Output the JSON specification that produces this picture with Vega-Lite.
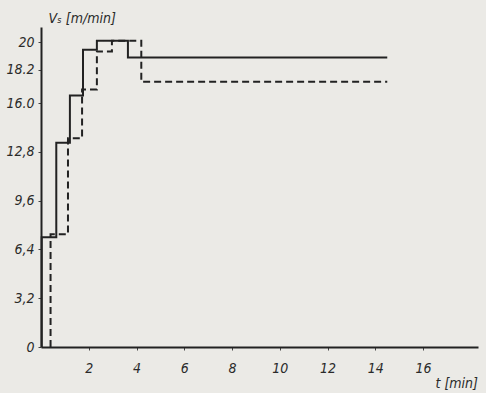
{
  "$schema": "https://vega.github.io/schema/vega-lite/v6.json",
  "width": 437,
  "height": 320,
  "autosize": {"type": "none"},
  "padding": {"left": 41, "top": 27, "right": 8, "bottom": 46},
  "background": "#ebeae6",
  "config": {
    "view": {"stroke": null},
    "axis": {
      "labelFont": "DejaVu Sans Condensed",
      "labelFontStyle": "italic",
      "labelFontSize": 14,
      "labelColor": "#2a2a2a",
      "titleFont": "DejaVu Sans Condensed",
      "titleFontStyle": "italic",
      "titleFontWeight": "normal",
      "titleFontSize": 14,
      "titleColor": "#2a2a2a",
      "domainColor": "#222",
      "domainWidth": 2,
      "tickColor": "#444",
      "grid": false
    }
  },
  "data": {
    "values": [
      {"series": "a", "o": 1, "t": 0.03, "v": 0},
      {"series": "a", "o": 2, "t": 0.03, "v": 7.2},
      {"series": "a", "o": 3, "t": 0.64, "v": 7.2},
      {"series": "a", "o": 4, "t": 0.64, "v": 13.4},
      {"series": "a", "o": 5, "t": 1.21, "v": 13.4},
      {"series": "a", "o": 6, "t": 1.21, "v": 16.5},
      {"series": "a", "o": 7, "t": 1.76, "v": 16.5},
      {"series": "a", "o": 8, "t": 1.76, "v": 19.5},
      {"series": "a", "o": 9, "t": 2.34, "v": 19.5},
      {"series": "a", "o": 10, "t": 2.34, "v": 20.1},
      {"series": "a", "o": 11, "t": 3.64, "v": 20.1},
      {"series": "a", "o": 12, "t": 3.64, "v": 19.0},
      {"series": "a", "o": 13, "t": 14.5, "v": 19.0},
      {"series": "b", "o": 1, "t": 0.4, "v": 0},
      {"series": "b", "o": 2, "t": 0.4, "v": 7.4},
      {"series": "b", "o": 3, "t": 1.13, "v": 7.4},
      {"series": "b", "o": 4, "t": 1.13, "v": 13.7},
      {"series": "b", "o": 5, "t": 1.72, "v": 13.7},
      {"series": "b", "o": 6, "t": 1.72, "v": 16.9},
      {"series": "b", "o": 7, "t": 2.34, "v": 16.9},
      {"series": "b", "o": 8, "t": 2.34, "v": 19.4},
      {"series": "b", "o": 9, "t": 2.97, "v": 19.4},
      {"series": "b", "o": 10, "t": 2.97, "v": 20.1},
      {"series": "b", "o": 11, "t": 4.2, "v": 20.1},
      {"series": "b", "o": 12, "t": 4.2, "v": 17.4},
      {"series": "b", "o": 13, "t": 14.5, "v": 17.4}
    ]
  },
  "mark": {"type": "line", "strokeWidth": 2, "color": "#222"},
  "encoding": {
    "x": {
      "field": "t",
      "type": "quantitative",
      "scale": {"domain": [0, 18.3], "nice": false},
      "axis": {
        "values": [2, 4, 6, 8, 10, 12, 14, 16],
        "tickSize": 3,
        "labelPadding": 11,
        "title": "t [min]",
        "titleAnchor": null,
        "titleAlign": "left",
        "titleAngle": 0,
        "titleX": 394,
        "titleY": 36,
        "titleBaseline": "middle"
      }
    },
    "y": {
      "field": "v",
      "type": "quantitative",
      "scale": {"domain": [0, 21], "nice": false},
      "axis": {
        "values": [0, 3.2, 6.4, 9.6, 12.8, 16, 18.2, 20],
        "labelExpr": "datum.value == 0 ? '0' : datum.value == 3.2 ? '3,2' : datum.value == 6.4 ? '6,4' : datum.value == 9.6 ? '9,6' : datum.value == 12.8 ? '12,8' : datum.value == 16 ? '16.0' : datum.value == 18.2 ? '18.2' : '20'",
        "tickSize": 3,
        "labelPadding": 4,
        "title": "Vₛ [m/min]",
        "titleAngle": 0,
        "titleAlign": "left",
        "titleAnchor": null,
        "titleX": 7,
        "titleY": -9,
        "titleBaseline": "middle"
      }
    },
    "detail": {"field": "series"},
    "order": {"field": "o"},
    "strokeDash": {
      "field": "series",
      "type": "nominal",
      "scale": {"domain": ["a", "b"], "range": [[1, 0], [7, 4]]},
      "legend": null
    }
  }
}
